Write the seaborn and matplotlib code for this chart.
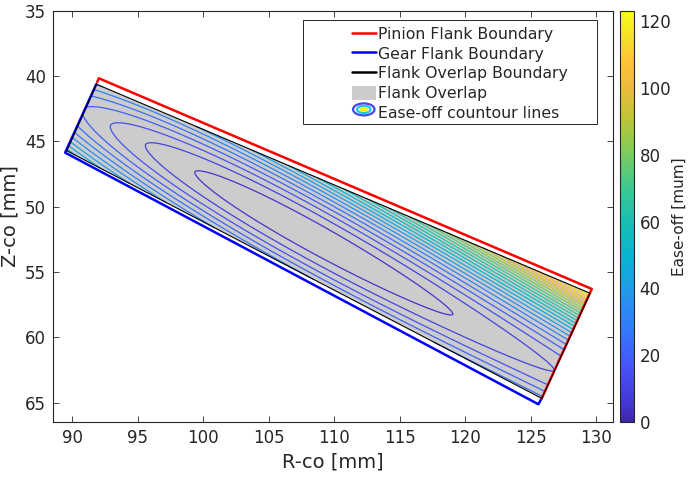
import numpy as np
import matplotlib
matplotlib.use("Agg")
import matplotlib.pyplot as plt
import seaborn as sns
from matplotlib.colors import LinearSegmentedColormap, Normalize
from matplotlib.lines import Line2D
from matplotlib.patches import Patch, Ellipse, Rectangle

# ---- boundary corners (R, Z) in mm ----
pinion_r = [91.90, 92.02, 129.65, 125.83]
pinion_z = [40.45, 40.17, 56.29, 64.66]
gear_r = [91.83, 89.45, 125.57, 125.83]
gear_z = [40.62, 45.86, 65.11, 64.66]
# overlap quad: top-left, top-right, bottom-right, bottom-left
overlap_r = [91.83, 129.52, 125.83, 89.57]
overlap_z = [40.62, 56.62, 64.66, 45.71]

# ---- ease-off surface (micrometres) ----
ease_center_r = 109.2
ease_center_z = 52.78
ease_axis_deg = 29.0
# polynomial along the bearing axis: c0 + c1*u + c2*u^2 + c3*u^3
ease_along_coefs = [0.916, 0.0897, 0.03226, -0.000709]
# power law across the bearing axis
ease_across_coef = 3.53
ease_across_exp = 1.855
ease_levels = [5, 10, 15, 20, 25, 30, 35, 40, 45, 50, 55, 60,
               65, 70, 75, 80, 85, 90, 95, 100, 105, 110, 115, 120]
ease_min, ease_max = 0.0, 123.2

x_ticks = [90, 95, 100, 105, 110, 115, 120, 125, 130]
y_ticks = [35, 40, 45, 50, 55, 60, 65]
cbar_ticks = [0, 20, 40, 60, 80, 100, 120]

legend_labels = ["Pinion Flank Boundary", "Gear Flank Boundary",
                 "Flank Overlap Boundary", "Flank Overlap",
                 "Ease-off countour lines"]

# parula-like colour ramp
parula_pos = [0.0, 0.05, 0.13, 0.22, 0.31, 0.40, 0.48, 0.56,
              0.66, 0.74, 0.82, 0.88, 0.94, 1.0]
parula_rgb = [(0.2422, 0.1504, 0.6603), (0.2666, 0.2239, 0.8360),
              (0.2810, 0.3228, 0.9579), (0.2050, 0.4700, 0.9900),
              (0.1540, 0.5902, 0.9218), (0.0297, 0.7082, 0.8163),
              (0.0984, 0.7427, 0.7094), (0.2161, 0.7843, 0.5923),
              (0.5044, 0.7993, 0.3480), (0.7500, 0.7700, 0.2200),
              (0.9400, 0.7300, 0.2300), (0.9970, 0.7659, 0.2199),
              (0.9596, 0.8897, 0.1535), (0.9769, 0.9839, 0.0805)]
parula = LinearSegmentedColormap.from_list("parula", list(zip(parula_pos, parula_rgb)))

sns.set_theme(style="white")
dark = "#262626"
plt.rcParams["font.family"] = ["DejaVu Sans"]
plt.rcParams.update({
    "axes.edgecolor": dark, "axes.linewidth": 0.8,
    "xtick.direction": "in", "ytick.direction": "in",
    "xtick.bottom": True, "xtick.top": True,
    "ytick.left": True, "ytick.right": True,
    "xtick.color": dark, "ytick.color": dark,
    "xtick.major.size": 4.5, "ytick.major.size": 4.5,
    "xtick.major.width": 0.6, "ytick.major.width": 0.6,
    "axes.labelcolor": dark, "text.color": dark,
})

W, H = 689, 480
fig = plt.figure(figsize=(W / 100, H / 100), dpi=100)
ax = fig.add_axes([52.7 / W, 1 - 422 / H, (613 - 52.7) / W, (422 - 10.7) / H])
cax = fig.add_axes([619.5 / W, 1 - 422 / H, 14.5 / W, (422 - 10.7) / H])

# flank overlap region
ax.fill(overlap_r, overlap_z, color=(0.8, 0.8, 0.8), lw=0, zorder=1)

# curvilinear grid over the overlap quad
tl, tr, br, bl = [np.array([r, z]) for r, z in zip(overlap_r, overlap_z)]
s = np.linspace(0, 1, 301)
t = np.linspace(0, 1, 151)
S, T = np.meshgrid(s, t)
R = (1 - S) * (1 - T) * bl[0] + S * (1 - T) * br[0] + S * T * tr[0] + (1 - S) * T * tl[0]
Zc = (1 - S) * (1 - T) * bl[1] + S * (1 - T) * br[1] + S * T * tr[1] + (1 - S) * T * tl[1]
ang = np.deg2rad(ease_axis_deg)
du, dv = R - ease_center_r, Zc - ease_center_z
u = du * np.cos(ang) + dv * np.sin(ang)
v = -du * np.sin(ang) + dv * np.cos(ang)
ease = (np.polynomial.polynomial.polyval(u, ease_along_coefs)
        + ease_across_coef * np.abs(v) ** ease_across_exp)

norm = Normalize(vmin=ease_min, vmax=ease_max)
ax.contour(R, Zc, ease, levels=ease_levels, cmap=parula, norm=norm,
           linewidths=0.9, zorder=2)

# flank boundaries
sns.lineplot(x=gear_r, y=gear_z, sort=False, estimator=None, color="blue",
             lw=1.8, ax=ax, zorder=3)
sns.lineplot(x=pinion_r, y=pinion_z, sort=False, estimator=None, color="red",
             lw=1.8, ax=ax, zorder=3)
sns.lineplot(x=overlap_r + overlap_r[:1], y=overlap_z + overlap_z[:1], sort=False,
             estimator=None, color="black", lw=0.8, ax=ax, zorder=4)

ax.set_xlim(88.5, 131.27)
ax.set_ylim(66.47, 35)
ax.set_xticks(x_ticks)
ax.set_yticks(y_ticks)
ax.tick_params(labelsize=12, pad=5)
ax.set_xlabel("R-co [mm]", fontsize=14, labelpad=4)
ax.set_ylabel("Z-co [mm]", fontsize=14, labelpad=4)
for sp in ax.spines.values():
    sp.set_visible(True)
    sp.set_color(dark)


class ContourIcon:
    pass


class ContourIconHandler:
    ring_scales = [1.0, 0.66, 0.34]
    ring_colors = [(0.27, 0.27, 0.95), (0.1, 0.8, 0.85), (0.97, 0.93, 0.1)]

    def legend_artist(self, legend, orig_handle, fontsize, handlebox):
        x0, y0 = handlebox.xdescent, handlebox.ydescent
        w, h = handlebox.width, handlebox.height
        cx, cy = x0 + w / 2, y0 + h / 2
        art = None
        for k, col in zip(self.ring_scales, self.ring_colors):
            art = Ellipse((cx, cy), w * k - 1.5, h * k - 1.5, fill=False,
                          edgecolor=col, lw=1.6, transform=handlebox.get_transform())
            handlebox.add_artist(art)
        return art


handles = [Line2D([], [], color="red", lw=1.8),
           Line2D([], [], color="blue", lw=1.8),
           Line2D([], [], color="black", lw=1.8),
           Patch(facecolor=(0.8, 0.8, 0.8), edgecolor="none"),
           ContourIcon()]

frame = Rectangle((303 / W, 1 - 123.5 / H), 294 / W, 103.5 / H,
                  transform=fig.transFigure, facecolor="white",
                  edgecolor=dark, lw=0.7, zorder=5)
ax.add_patch(frame)
frame.set_clip_on(False)
leg = ax.legend(handles, legend_labels, loc="upper left",
                bbox_to_anchor=(352 / W, 1 - 26.5 / H), bbox_transform=fig.transFigure,
                frameon=False, fontsize=11.3, handlelength=1.5, handleheight=1.0,
                handletextpad=0.15, labelspacing=0.28, borderpad=0, borderaxespad=0,
                handler_map={ContourIcon: ContourIconHandler()})
leg.set_zorder(6)

# colour bar
sm = matplotlib.cm.ScalarMappable(norm=norm, cmap=parula)
cb = fig.colorbar(sm, cax=cax, ticks=cbar_ticks)
cb.outline.set_edgecolor(dark)
cb.outline.set_linewidth(0.8)
cax.tick_params(direction="in", length=4, labelsize=12, left=False, right=True,
                color=dark, pad=4)
cb.set_label("Ease-off [mum]", fontsize=11, labelpad=0)

fig.savefig("out.png", dpi=100)
